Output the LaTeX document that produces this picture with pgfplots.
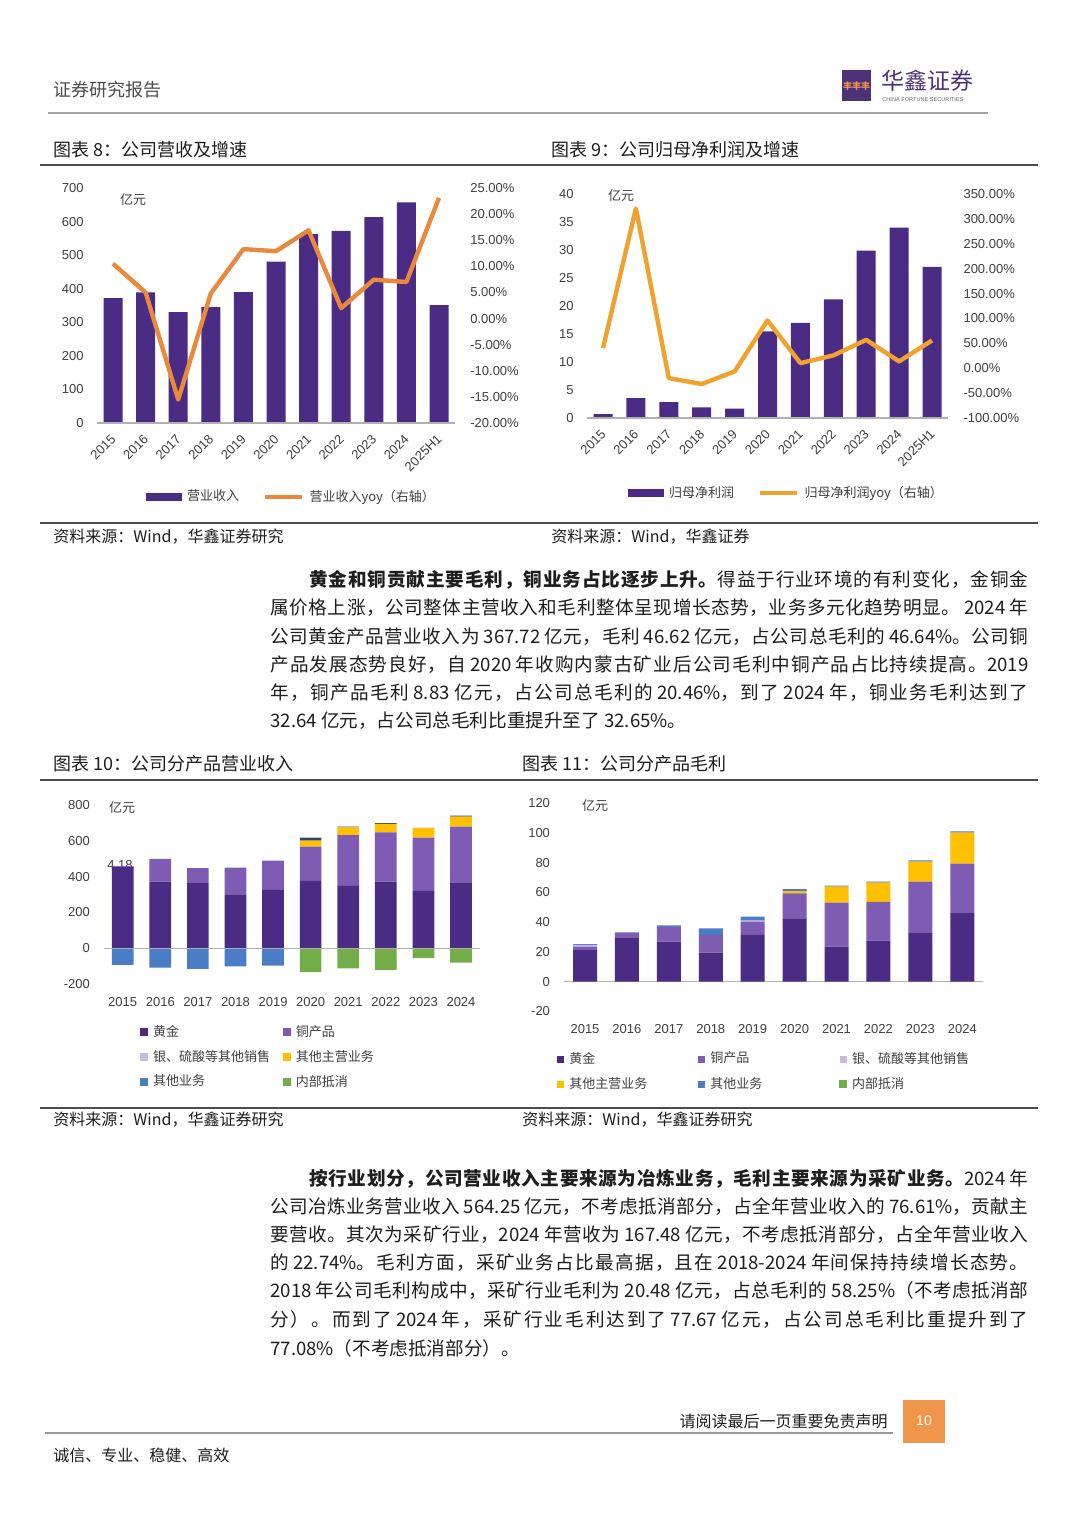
\documentclass[border=0pt]{standalone}
\usepackage{pgfplots}
\pgfplotsset{compat=1.18}
\usepackage{fontspec}
\setmainfont{Noto Sans CJK SC}
\newfontfamily\arial{Liberation Sans}
\XeTeXinterchartokenstate=1
\newcount\cjkcc
\cjkcc="4E00
\loop \XeTeXcharclass\cjkcc=7 \advance\cjkcc by 1 \ifnum\cjkcc<"A000 \repeat
\XeTeXcharclass"FF0C=7 \XeTeXcharclass"3002=7 \XeTeXcharclass"3001=7
\XeTeXcharclass"FF08=7 \XeTeXcharclass"FF09=7 \XeTeXcharclass"FF1A=7
\newcommand\cjkglue{\hskip 0pt plus 10pt minus 0.3pt\relax}
\XeTeXinterchartoks 7 7 = {\cjkglue}
\definecolor{pdark}{HTML}{4B2C84}
\definecolor{pmid}{HTML}{7E5CB4}
\definecolor{plight}{HTML}{C7BCDF}
\definecolor{gold}{HTML}{FFC000}
\definecolor{oblue}{HTML}{4A7DC6}
\definecolor{ogreen}{HTML}{72AD4A}
\definecolor{lineor}{HTML}{E8893C}
\definecolor{lineor2}{HTML}{F0A12E}
\definecolor{txt}{HTML}{1E1E1E}
\definecolor{lab}{HTML}{404040}
\definecolor{axgray}{HTML}{B0B0B0}
\definecolor{logop}{HTML}{4E3278}
\definecolor{pageor}{HTML}{F0964A}
\newcommand\bodyfont{\fontsize{9.3}{11}\selectfont}
\newcommand\sq[1]{\fill[#1] (0pt,-1.75pt) rectangle (3.5pt,1.75pt);}
\pgfplotsset{
 base/.style={scale only axis, clip=false, axis line style={draw=none},
   major tick length=0pt, tick style={draw=none},
   /pgf/number format/assume math mode=true,
   ticklabel style={font={\arial\fontsize{6.5}{7}\selectfont}, text=lab},
   legend style={draw=none, fill=none, inner sep=0pt, font={\fontsize{6.5}{7}\selectfont}, text=lab,
     nodes={inner sep=1pt}},
 },
 pct/.style={yticklabel={\pgfmathprintnumber[fixed,fixed zerofill,precision=2]{\tick}\%}},
 rotlab/.style={xticklabel style={inner sep=0pt, xshift=-1.5pt, yshift=-5pt, rotate=45, anchor=north east}},
}
\begin{document}
\begin{tikzpicture}
\useasboundingbox (0,0) rectangle (540pt,-763.5pt);
\fill[white] (0,0) rectangle (540pt,-763.5pt);
\begin{scope}[x=0.5pt,y=-0.5pt, every node/.style={inner sep=0pt}]
% header
\node[anchor=west, font={\fontsize{9}{10}\selectfont}, text=black!70] at (53,90) {证券研究报告};
\fill[logop] (842,70) rectangle (871,101);
\node[text=pageor, font={\fontsize{4.5}{5}\selectfont\bfseries}] at (856.5,86) {丰丰丰};
\node[anchor=west, font={\fontsize{11.5}{12}\selectfont}, text=logop] at (881,81) {华鑫证券};
\node[anchor=west, font={\arial\fontsize{2.8}{3}\selectfont}, text=black!60] at (882,99.5) {CHINA FORTUNE SECURITIES};
\draw[black!35, line width=0.6pt] (48,113) -- (988,113);
% figure titles
\node[anchor=west, font={\fontsize{9}{10}\selectfont}, text=txt] at (53,150) {图表 8：公司营收及增速};
\node[anchor=west, font={\fontsize{9}{10}\selectfont}, text=txt] at (551,150) {图表 9：公司归母净利润及增速};
\draw[black!70, line width=0.7pt] (40,165) -- (1038,165);
\draw[black!70, line width=0.7pt] (40,523) -- (1038,523);
\node[anchor=west, font={\fontsize{8}{9}\selectfont}, text=txt] at (53,537) {资料来源：Wind，华鑫证券研究};
\node[anchor=west, font={\fontsize{8}{9}\selectfont}, text=txt] at (551,537) {资料来源：Wind，华鑫证券};
% chart labels
\node[font={\fontsize{6.5}{7}\selectfont}, text=lab] at (133,200) {亿元};
\node[font={\fontsize{6.5}{7}\selectfont}, text=lab] at (621,196) {亿元};
\node[font={\fontsize{6.5}{7}\selectfont}, text=lab] at (122,808) {亿元};
\node[font={\fontsize{6.5}{7}\selectfont}, text=lab] at (595,806) {亿元};
\node[font={\arial\fontsize{6.5}{7}\selectfont}, text=lab] at (120,865) {4.18};
% paragraph 1
\begin{scope}[every node/.append style={anchor=west, font=\bodyfont, text=txt}]
\node at (309,580) {\makebox[359.5pt][s]{{\bfseries 黄金和铜贡献主要毛利，铜业务占比逐步上升。}得益于行业环境的有利变化，金铜金}};
\node at (270,608) {\makebox[379pt][s]{属价格上涨，公司整体主营收入和毛利整体呈现增长态势，业务多元化趋势明显。 2024 年}};
\node at (270,637) {\makebox[379pt][s]{公司黄金产品营业收入为 367.72 亿元，毛利 46.62 亿元，占公司总毛利的 46.64\%。公司铜}};
\node at (270,665) {\makebox[379pt][s]{产品发展态势良好，自 2020 年收购内蒙古矿业后公司毛利中铜产品占比持续提高。2019}};
\node at (270,693) {\makebox[379pt][s]{年，铜产品毛利 8.83 亿元，占公司总毛利的 20.46\%，到了 2024 年，铜业务毛利达到了}};
\node at (270,721) {32.64 亿元，占公司总毛利比重提升至了 32.65\%。};
% paragraph 2
\node at (309,1179) {\makebox[359.5pt][s]{{\bfseries 按行业划分，公司营业收入主要来源为冶炼业务，毛利主要来源为采矿业务。}2024 年}};
\node at (270,1207) {\makebox[379pt][s]{公司冶炼业务营业收入 564.25 亿元，不考虑抵消部分，占全年营业收入的 76.61\%，贡献主}};
\node at (270,1235) {\makebox[379pt][s]{要营收。其次为采矿行业，2024 年营收为 167.48 亿元，不考虑抵消部分，占全年营业收入}};
\node at (270,1263) {\makebox[379pt][s]{的 22.74\%。毛利方面，采矿业务占比最高据，且在 2018-2024 年间保持持续增长态势。}};
\node at (270,1291) {\makebox[379pt][s]{2018 年公司毛利构成中，采矿行业毛利为 20.48 亿元，占总毛利的 58.25\%（不考虑抵消部}};
\node at (270,1320) {\makebox[379pt][s]{分）。而到了 2024 年，采矿行业毛利达到了 77.67 亿元，占公司总毛利比重提升到了}};
\node at (270,1348) {77.08\%（不考虑抵消部分）。};
\end{scope}
% second row titles
\node[anchor=west, font={\fontsize{9}{10}\selectfont}, text=txt] at (53,764) {图表 10：公司分产品营业收入};
\node[anchor=west, font={\fontsize{9}{10}\selectfont}, text=txt] at (522,764) {图表 11：公司分产品毛利};
\draw[black!70, line width=0.7pt] (40,780) -- (1038,780);
\draw[black!70, line width=0.7pt] (40,1108) -- (1038,1108);
\node[anchor=west, font={\fontsize{8}{9}\selectfont}, text=txt] at (53,1120) {资料来源：Wind，华鑫证券研究};
\node[anchor=west, font={\fontsize{8}{9}\selectfont}, text=txt] at (522,1120) {资料来源：Wind，华鑫证券研究};
% footer
\node[anchor=east, font={\fontsize{8}{9}\selectfont}, text=txt] at (888,1421) {请阅读最后一页重要免责声明};
\fill[pageor] (903,1400) rectangle (945,1443);
\node[font={\arial\fontsize{7}{8}\selectfont}, text=white] at (924,1421) {10};
\draw[black!40, line width=0.6pt] (45,1433) -- (893,1433);
\node[anchor=west, font={\fontsize{8}{9}\selectfont}, text=txt] at (53,1455) {诚信、专业、稳健、高效};
\end{scope}

% ================= Chart 1 =================
\begin{axis}[base, rotlab, at={(48.35pt,-211.5pt)}, anchor=south west, width=179.3pt, height=117.5pt,
  xmin=-0.5, xmax=10.5, ymin=0, ymax=700, ytick={0,100,...,700},
  xtick={0,...,10}, xticklabels={2015,2016,2017,2018,2019,2020,2021,2022,2023,2024,2025H1},
  yticklabel style={xshift=-3pt},
  ybar, bar width=9.5pt]
\addplot[fill=pdark, draw=none, bar shift=0pt] coordinates {(0,372) (1,389) (2,330) (3,345) (4,390) (5,481) (6,563) (7,572) (8,613) (9,657) (10,351)};
\draw[axgray, line width=0.6pt] (axis cs:-0.5,0) -- (axis cs:10.5,0);
\end{axis}
\begin{axis}[base, pct, at={(48.35pt,-211.5pt)}, anchor=south west, width=179.3pt, height=117.5pt,
  xmin=-0.5, xmax=10.5, ymin=-20, ymax=25, ytick={-20,-15,...,25}, xtick=\empty,
  yticklabel pos=right, yticklabel style={xshift=4pt},
  legend style={at={(0.1375,-0.315)}, anchor=west, legend columns=2,
    /tikz/every odd column/.append style={column sep=1.5pt},
    /tikz/every even column/.append style={column sep=11pt}}]
\addlegendimage{legend image code/.code={\fill[pdark] (0pt,-1.75pt) rectangle (17.5pt,1.75pt);}}
\addlegendentry{营业收入}
\addlegendimage{legend image code/.code={\draw[lineor, line width=2.2pt] (0pt,0pt) -- (18.5pt,0pt);}}
\addlegendentry{营业收入yoy（右轴）}
\addplot[lineor, line width=2.2pt, line join=round, forget plot] coordinates {(0,10.5) (1,5.0) (2,-15.5) (3,4.8) (4,13.3) (5,12.9) (6,16.9) (7,2.0) (8,7.45) (9,7.0) (10,23.1)};
\end{axis}

% ================= Chart 2 =================
\begin{axis}[base, rotlab, at={(293.275pt,-209pt)}, anchor=south west, width=180.95pt, height=112pt,
  xmin=-0.5, xmax=10.5, ymin=0, ymax=40, ytick={0,5,...,40},
  xtick={0,...,10}, xticklabels={2015,2016,2017,2018,2019,2020,2021,2022,2023,2024,2025H1},
  yticklabel style={xshift=-3pt},
  ybar, bar width=9.5pt]
\addplot[fill=pdark, draw=none, bar shift=0pt] coordinates {(0,0.71) (1,3.57) (2,2.85) (3,1.9) (4,1.66) (5,15.45) (6,17.0) (7,21.2) (8,29.9) (9,34.0) (10,27.0)};
\draw[axgray, line width=0.6pt] (axis cs:-0.5,0) -- (axis cs:10.5,0);
\end{axis}
\begin{axis}[base, pct, at={(293.275pt,-209pt)}, anchor=south west, width=180.95pt, height=112pt,
  xmin=-0.5, xmax=10.5, ymin=-100, ymax=350, ytick={-100,-50,...,350}, xtick=\empty,
  yticklabel pos=right, yticklabel style={xshift=4pt},
  legend style={at={(0.1145,-0.335)}, anchor=west, legend columns=2,
    /tikz/every odd column/.append style={column sep=1.5pt},
    /tikz/every even column/.append style={column sep=11pt}}]
\addlegendimage{legend image code/.code={\fill[pdark] (0pt,-1.75pt) rectangle (17.5pt,1.75pt);}}
\addlegendentry{归母净利润}
\addlegendimage{legend image code/.code={\draw[lineor2, line width=2.2pt] (0pt,0pt) -- (18.5pt,0pt);}}
\addlegendentry{归母净利润yoy（右轴）}
\addplot[lineor2, line width=2.2pt, line join=round, forget plot] coordinates {(0,40.4) (1,321) (2,-19.8) (3,-31.8) (4,-6.4) (5,96) (6,10.3) (7,25.7) (8,57) (9,13.7) (10,55.8)};
\end{axis}

% ================= Chart 3 =================
\begin{axis}[base, at={(51.95pt,-492pt)}, anchor=south west, width=187.95pt, height=89.55pt,
  xmin=-0.5, xmax=9.5, ymin=-200, ymax=800, ytick={-200,0,...,800},
  xtick={0,...,9}, xticklabels={2015,2016,2017,2018,2019,2020,2021,2022,2023,2024},
  xticklabel style={yshift=-3pt}, yticklabel style={xshift=-3.5pt},
  ybar stacked, bar width=10.85pt]
\addplot[fill=pdark, draw=none] coordinates {(0,455) (1,372) (2,363) (3,301) (4,326) (5,376) (6,348) (7,372) (8,320) (9,367.72)};
\addplot[fill=pmid, draw=none] coordinates {(0,4.18) (1,127) (2,84) (3,149) (4,163) (5,191) (6,284) (7,275) (8,297) (9,311)};
\addplot[fill=plight, draw=none] coordinates {(0,0) (1,0) (2,0) (3,0) (4,0) (5,0) (6,0) (7,0) (8,0) (9,0)};
\addplot[fill=gold, draw=none] coordinates {(0,0) (1,0) (2,0) (3,0) (4,0) (5,34) (6,43) (7,47) (8,53) (9,56)};
\addplot[fill=oblue!60!black, draw=none] coordinates {(0,0) (1,0) (2,0) (3,0) (4,0) (5,16) (6,4) (7,4) (8,2) (9,5)};
\end{axis}
\begin{axis}[base, at={(51.95pt,-492pt)}, anchor=south west, width=187.95pt, height=89.55pt,
  xmin=-0.5, xmax=9.5, ymin=-200, ymax=800, xtick=\empty, ytick=\empty,
  ybar, bar width=10.85pt,
  legend style={at={(0.096,-0.4076)}, anchor=west, legend columns=2, row sep=3.5pt,
    nodes={text width=64pt},
    /tikz/every odd column/.append style={column sep=1.5pt}}]
\addplot[fill=oblue, draw=none, bar shift=0pt, forget plot] coordinates {(0,-93) (1,-108) (2,-115) (3,-102) (4,-97)};
\addplot[fill=ogreen, draw=none, bar shift=0pt, forget plot] coordinates {(5,-134) (6,-112) (7,-121) (8,-56) (9,-80)};
\draw[axgray, line width=0.6pt] (axis cs:-0.5,0) -- (axis cs:9.5,0);
\addlegendimage{legend image code/.code={\sq{pdark}}}
\addlegendentry{黄金}
\addlegendimage{legend image code/.code={\sq{pmid}}}
\addlegendentry{铜产品}
\addlegendimage{legend image code/.code={\sq{plight}}}
\addlegendentry{银、硫酸等其他销售}
\addlegendimage{legend image code/.code={\sq{gold}}}
\addlegendentry{其他主营业务}
\addlegendimage{legend image code/.code={\sq{oblue}}}
\addlegendentry{其他业务}
\addlegendimage{legend image code/.code={\sq{ogreen}}}
\addlegendentry{内部抵消}
\end{axis}

% ================= Chart 4 =================
\begin{axis}[base, at={(282.02pt,-505.75pt)}, anchor=south west, width=209.6pt, height=104.25pt,
  xmin=-0.5, xmax=9.5, ymin=-20, ymax=120, ytick={-20,0,...,120},
  xtick={0,...,9}, xticklabels={2015,2016,2017,2018,2019,2020,2021,2022,2023,2024},
  xticklabel style={yshift=-3pt}, yticklabel style={xshift=-3.5pt},
  ybar stacked, bar width=12pt,
  legend style={at={(-0.0168,-0.2878)}, anchor=west, legend columns=3, row sep=3.5pt,
    nodes={text width=63.5pt},
    /tikz/every odd column/.append style={column sep=1.5pt}}]
\addplot[fill=pdark, draw=none, legend image code/.code={\sq{pdark}}] coordinates {(0,21.3) (1,29.8) (2,26.9) (3,19.5) (4,31.4) (5,42.6) (6,23.6) (7,27.6) (8,33.2) (9,46.62)};
\addlegendentry{黄金}
\addplot[fill=pmid, draw=none, legend image code/.code={\sq{pmid}}] coordinates {(0,2.2) (1,3.4) (2,10.0) (3,11.9) (4,8.9) (5,16.8) (6,29.5) (7,26.1) (8,34.0) (9,32.64)};
\addlegendentry{铜产品}
\addplot[fill=plight, draw=none, legend image code/.code={\sq{plight}}] coordinates {(0,1.3) (1,0) (2,0) (3,0) (4,0.7) (5,0) (6,0) (7,0) (8,0) (9,0)};
\addlegendentry{银、硫酸等其他销售}
\addplot[fill=gold, draw=none, legend image code/.code={\sq{gold}}] coordinates {(0,0) (1,0) (2,0) (3,0) (4,0) (5,1.5) (6,10.7) (7,12.8) (8,13.4) (9,20.8)};
\addlegendentry{其他主营业务}
\addplot[fill=oblue, draw=none, legend image code/.code={\sq{oblue}}] coordinates {(0,0.5) (1,0) (2,1.0) (3,4.5) (4,2.7) (5,1.2) (6,0.7) (7,0.7) (8,0.9) (9,0.9)};
\addlegendentry{其他业务}
\draw[axgray, line width=0.6pt] (axis cs:-0.5,0) -- (axis cs:9.5,0);
\addlegendimage{legend image code/.code={\sq{ogreen}}}
\addlegendentry{内部抵消}
\end{axis}
\end{tikzpicture}
\end{document}
